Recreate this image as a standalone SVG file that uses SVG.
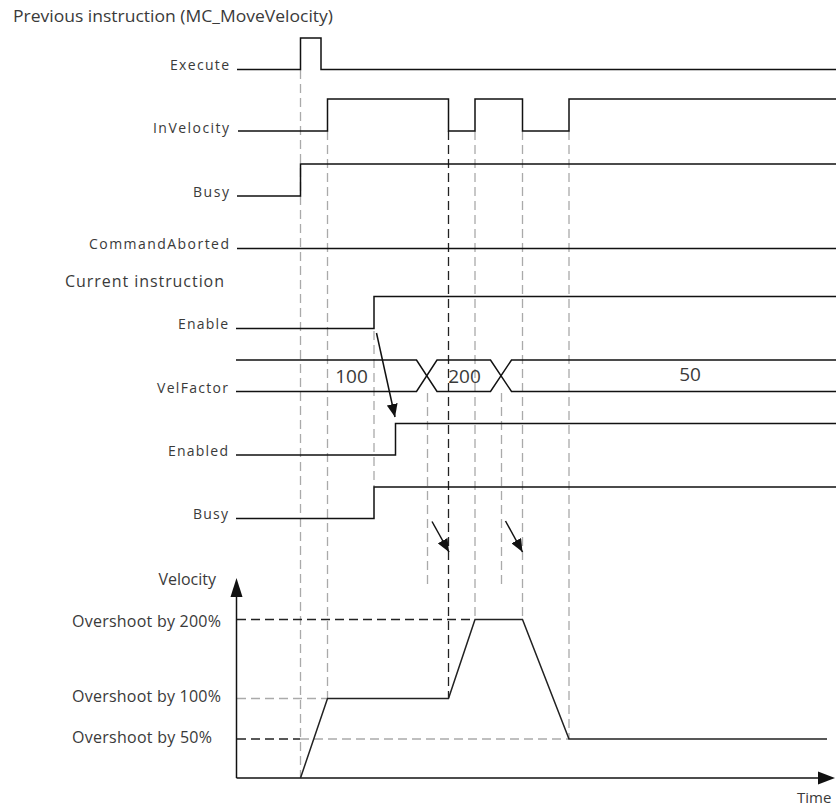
<svg xmlns="http://www.w3.org/2000/svg" width="837" height="807" viewBox="0 0 837 807">
<defs>
<style>
text{font-family:"Open Sans","Noto Sans","Liberation Sans",sans-serif;fill:#3a3a3a;}
.lbl{font-size:14px;text-anchor:end;}
.vl{font-size:16px;text-anchor:end;}
.ttl{font-size:16px;}
.val{font-size:19px;}
.sig{fill:none;stroke:#111;stroke-width:1.5;}
.dg{fill:none;stroke:#aaa;stroke-width:1.3;stroke-dasharray:9,5;}
.dk{fill:none;stroke:#222;stroke-width:1.3;stroke-dasharray:9,5;}
.arr{fill:none;stroke:#111;stroke-width:1.5;marker-end:url(#ah);}
</style>
<marker id="ah" markerUnits="userSpaceOnUse" markerWidth="13" markerHeight="11" refX="13" refY="5.5" orient="auto">
<path d="M0,0 L13,5.5 L0,11 z" fill="#111"/>
</marker>
</defs>
<rect width="837" height="807" fill="#fff"/>

<g id="guides">
<line class="dg" x1="300.5" y1="70" x2="300.5" y2="777"/>
<line class="dg" x1="327.5" y1="131" x2="327.5" y2="698"/>
<line class="dg" x1="374" y1="331" x2="374" y2="487"/>
<line class="dg" x1="427.5" y1="393" x2="427.5" y2="587"/>
<line class="dk" x1="448.5" y1="131" x2="448.5" y2="698"/>
<line class="dg" x1="475" y1="131" x2="475" y2="619"/>
<line class="dg" x1="501.5" y1="393" x2="501.5" y2="587"/>
<line class="dg" x1="522.5" y1="131" x2="522.5" y2="619"/>
<line class="dg" x1="569" y1="131" x2="569" y2="739"/>
<line class="dk" x1="237" y1="619.5" x2="475" y2="619.5"/>
<line class="dg" x1="237" y1="698.5" x2="327.5" y2="698.5"/>
<line class="dk" x1="237" y1="739" x2="300" y2="739"/>
<line class="dg" x1="300" y1="739" x2="569" y2="739"/>
</g>

<text class="ttl" x="13" y="22" textLength="320" lengthAdjust="spacingAndGlyphs">Previous instruction (MC_MoveVelocity)</text>

<g id="execute">
<text class="lbl" x="229" y="70" textLength="59" lengthAdjust="spacing">Execute</text>
<polyline class="sig" points="237,69.5 300.5,69.5 300.5,38 321,38 321,69.5 836,69.5"/>
</g>
<g id="invelocity">
<text class="lbl" x="229" y="133" textLength="76" lengthAdjust="spacing">InVelocity</text>
<polyline class="sig" points="238,131 327.5,131 327.5,99 448.5,99 448.5,131 475,131 475,99 522.5,99 522.5,131 569,131 569,99 836,99"/>
</g>
<g id="busy-prev">
<text class="lbl" x="229" y="197" textLength="36" lengthAdjust="spacing">Busy</text>
<polyline class="sig" points="237,196 300.5,196 300.5,164 836,164"/>
</g>
<g id="commandaborted">
<text class="lbl" x="229" y="249" textLength="140" lengthAdjust="spacing">CommandAborted</text>
<line class="sig" x1="237" y1="248.5" x2="836" y2="248.5"/>
</g>

<text class="ttl" x="65" y="287" textLength="159" lengthAdjust="spacing">Current instruction</text>

<g id="enable">
<text class="lbl" x="228" y="329" textLength="50" lengthAdjust="spacing">Enable</text>
<polyline class="sig" points="236,328.5 374,328.5 374,296.5 836,296.5"/>
</g>
<g id="velfactor">
<text class="lbl" x="228" y="393" textLength="71" lengthAdjust="spacing">VelFactor</text>
<polyline class="sig" points="236,360 416.5,360 437,391.5 490.5,391.5 511.5,360 836,360"/>
<polyline class="sig" points="236,391.5 416.5,391.5 437,360 490.5,360 511.5,391.5 836,391.5"/>
<text class="val" x="351.5" y="383" text-anchor="middle">100</text>
<text class="val" x="464.5" y="383" text-anchor="middle">200</text>
<text class="val" x="690" y="381" text-anchor="middle">50</text>
</g>
<g id="enabled">
<text class="lbl" x="228" y="456" textLength="60" lengthAdjust="spacing">Enabled</text>
<polyline class="sig" points="236,455 395.5,455 395.5,423.5 836,423.5"/>
</g>
<g id="busy-cur">
<text class="lbl" x="228" y="519" textLength="35" lengthAdjust="spacing">Busy</text>
<polyline class="sig" points="236,518.5 374,518.5 374,487 836,487"/>
</g>

<g id="connectors">
<line class="arr" x1="376.5" y1="333" x2="395" y2="417"/>
<line class="arr" x1="432" y1="521.5" x2="449" y2="552"/>
<line class="arr" x1="505.5" y1="521" x2="522.5" y2="552"/>
</g>

<g id="velocity-graph">
<line class="sig" x1="236.5" y1="778" x2="236.5" y2="594"/>
<polygon points="236.5,578 230.5,597 242.5,597" fill="#111"/>
<line class="sig" x1="236.5" y1="778" x2="820" y2="778"/>
<polygon points="835,778 818,771.5 818,784.5" fill="#111"/>
<text class="vl" x="216" y="585">Velocity</text>
<text class="vl" x="221" y="627" textLength="149" lengthAdjust="spacing">Overshoot by 200%</text>
<text class="vl" x="221" y="702" textLength="149" lengthAdjust="spacing">Overshoot by 100%</text>
<text class="vl" x="212" y="743" textLength="140" lengthAdjust="spacing">Overshoot by 50%</text>
<text x="797" y="803" style="font-size:15px">Time</text>
<polyline class="sig" style="stroke:#222" points="300.5,778 327.5,698.5 448.5,698.5 475,619.5 522.5,619.5 569,739 827,739"/>
</g>
</svg>
